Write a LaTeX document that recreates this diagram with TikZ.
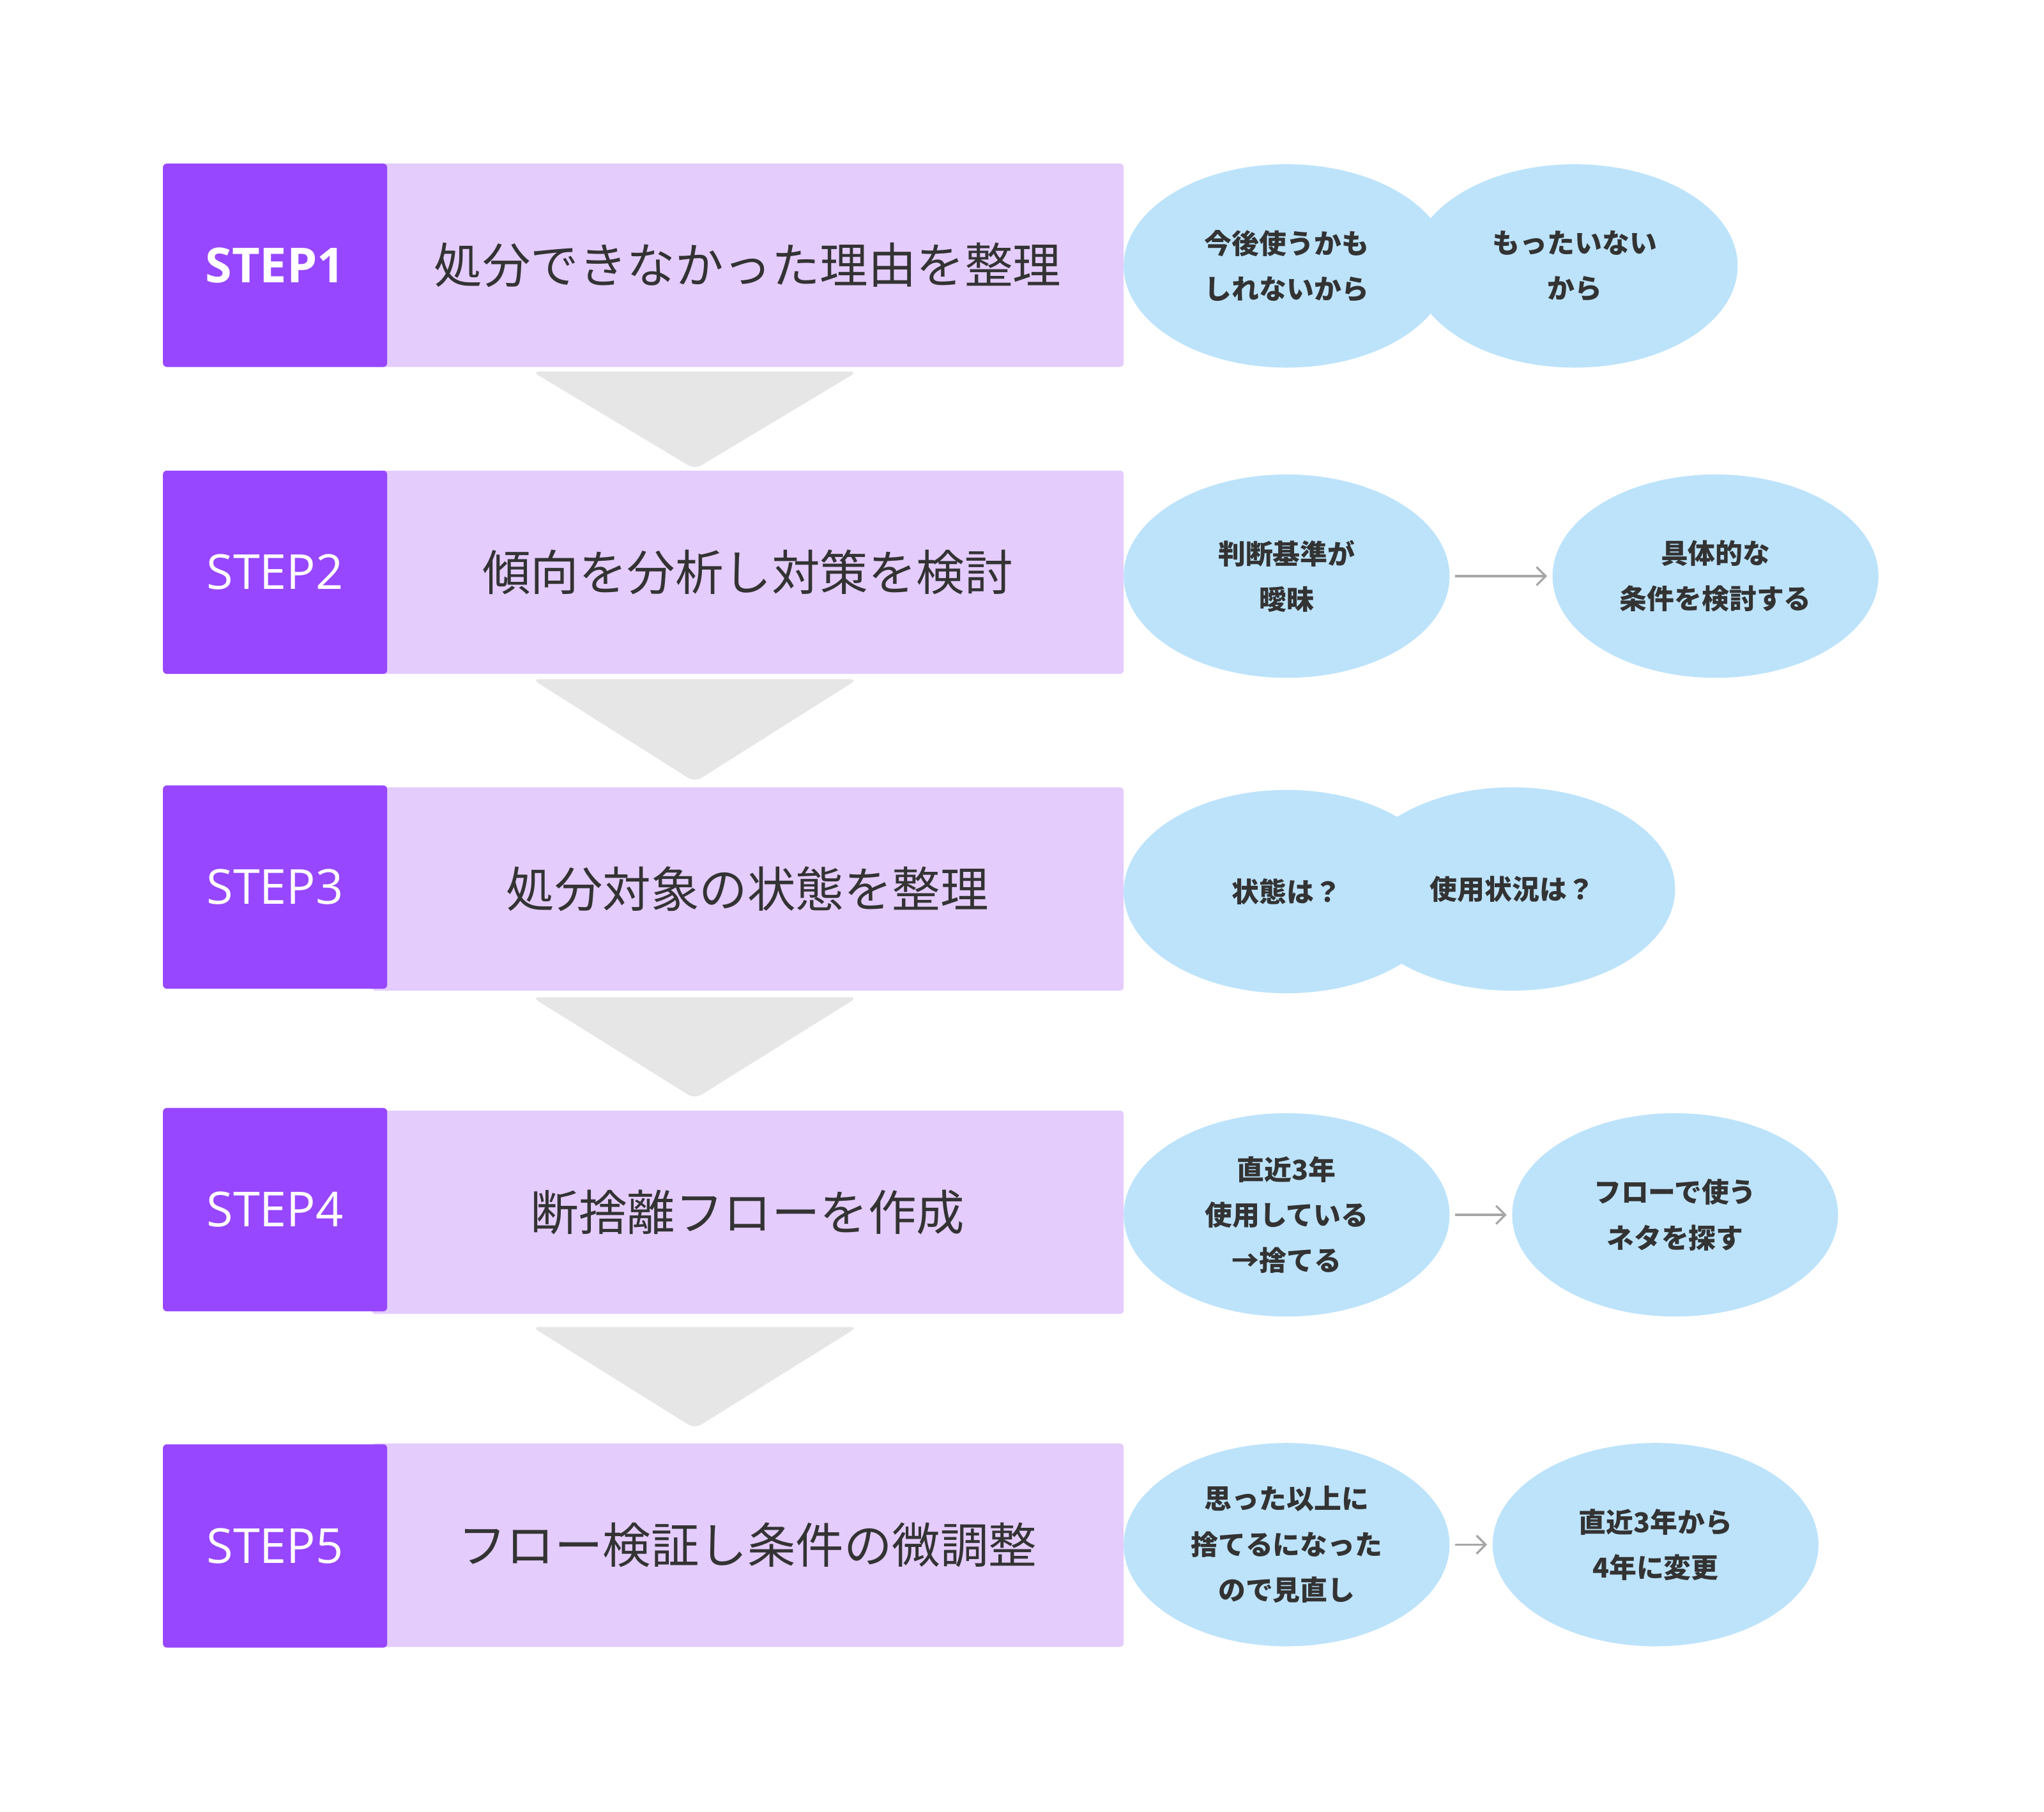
\documentclass[tikz,border=0pt]{standalone}
\usepackage{fontspec}
\setmainfont{Noto Sans CJK JP}
\newfontfamily\stepfont{Open Sans}
\usetikzlibrary{positioning, arrows.meta, shapes.geometric}

\definecolor{steppurple}{HTML}{9747FF}
\definecolor{steplav}{HTML}{E4CCFD}
\definecolor{bubble}{HTML}{BDE3FB}
\definecolor{chev}{HTML}{E6E6E6}
\definecolor{ink}{HTML}{333333}

\tikzset{
  stepbox/.style={fill=steppurple, rounded corners=3pt, minimum width=172pt,
    minimum height=156pt, text=white, font=\stepfont\fontsize{37}{40}\selectfont},
  titlebox/.style={fill=steplav, rounded corners=3pt, minimum width=577pt,
    minimum height=156pt, text=ink, font=\fontsize{37}{40}\selectfont},
  bubblenode/.style={ellipse, fill=bubble, minimum width=250pt, minimum height=156pt,
    text=ink, align=center, inner sep=0pt, font=\bfseries\fontsize{21}{35}\selectfont},
  flowarrow/.style={draw=gray!70, line width=1.6pt, -{Straight Barb[length=7pt, width=14pt]},
    shorten <=4pt, shorten >=4pt},
}

\begin{document}
\begin{tikzpicture}[x=1pt, y=-1pt]
        \useasboundingbox (0,0) rectangle (1568,1390);

        % chevrons between the steps
        \foreach \t/\p in {285/360, 521/600, 765/843, 1018/1096}
          \fill[chev, rounded corners=6pt] (408,\t) -- (658,\t) -- (533,\p) -- cycle;

        \node[titlebox] (t1) at (573.5,203.5) {処分できなかった理由を整理};
        \node[titlebox] (t2) at (573.5,439)   {傾向を分析し対策を検討};
        \node[titlebox] (t3) at (573.5,682)   {処分対象の状態を整理};
        \node[titlebox] (t4) at (573.5,930)   {断捨離フローを作成};
        \node[titlebox] (t5) at (573.5,1185.5){フロー検証し条件の微調整};

        \node[stepbox, font=\stepfont\bfseries\fontsize{37}{40}\selectfont] (s1) at (211,203.5) {STEP1};
        \node[stepbox] (s2) at (211,439)  {STEP2};
        \node[stepbox] (s3) at (211,680.5){STEP3};
        \node[stepbox] (s4) at (211,928)  {STEP4};
        \node[stepbox] (s5) at (211,1186) {STEP5};

        \node[bubblenode] (e11) at (987,204)  {今後使うかも\\しれないから};
        \node[bubblenode] (e12) at (1208,204) {もったいない\\から};

        \node[bubblenode] (e21) at (987,442)  {判断基準が\\曖昧};
        \node[bubblenode] (e22) at (1316,442) {具体的な\\条件を検討する};

        \node[bubblenode] (e31) at (987,684)  {状態は？};
        \node[bubblenode] (e32) at (1160,682) {使用状況は？};

        \node[bubblenode] (e41) at (987,932)  {直近3年\\使用している\\→捨てる};
        \node[bubblenode] (e42) at (1285,932) {フローで使う\\ネタを探す};

        \node[bubblenode] (e51) at (987,1185) {思った以上に\\捨てるになった\\ので見直し};
        \node[bubblenode] (e52) at (1270,1185){直近3年から\\4年に変更};

        \draw[flowarrow] (e21) -- (e22);
        \draw[flowarrow] (e41) -- (e42);
        \draw[flowarrow] (e51) -- (e52);

      \end{tikzpicture}
\end{document}
